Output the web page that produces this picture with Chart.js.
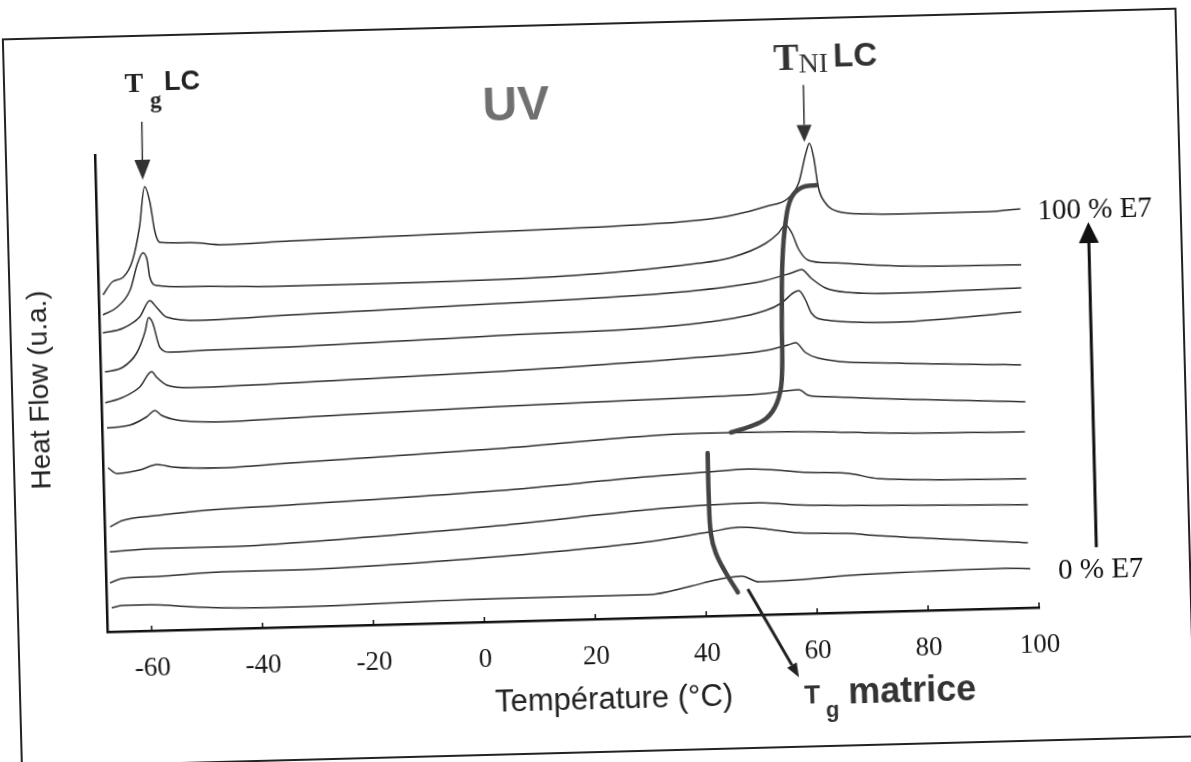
<!DOCTYPE html>
<html>
<head>
<meta charset="utf-8">
<script src="https://cdn.jsdelivr.net/npm/chart.js@4.4.0/dist/chart.umd.min.js"></script>
<style>
  html, body { margin: 0; padding: 0; background: #fff; overflow: hidden; }
  #dsc { display: block; transform: rotate(-1.5deg); transform-origin: 50% 50%; }
</style>
</head>
<body>
<canvas id="dsc" width="1191" height="762"></canvas>
<script>
// DSC thermograms (UV cured), top curve 100 % E7 down to 0 % E7
// pairs: [temperature °C, heat flow (u.a.)]
var e7_100 = [[-67.2,337],[-65.4,350],[-63.5,354],[-61.7,371],[-60.3,404],[-59.2,444],[-58.3,428],[-57.6,400],[-56.7,388],[-51.3,387],[-45.4,384],[-33.3,386],[4.5,390],[40.5,396],[46.5,400],[52.7,408],[56.8,416],[58.7,431],[60.1,460],[60.8,470],[61.5,456],[62.2,426],[63.4,410],[65.7,401],[70.6,398],[76.5,397],[92.7,397],[98.5,399]];
var e7_90 = [[-67.3,317],[-64.8,324],[-62.3,341],[-60.8,368],[-59.8,378],[-59.1,371],[-58.7,354],[-57.5,345],[-51.5,343],[-33.5,341],[4.3,342],[40.3,353],[46.3,358],[52.4,371],[54.8,381],[56.1,389],[57.2,381],[58.4,364],[60.1,353],[64.2,350],[76.3,345],[98.4,343]];
var e7_80 = [[-67.4,299],[-63.8,303],[-60.7,314],[-58.8,330],[-57.6,323],[-55.8,313],[-49.9,309],[-33.7,312],[4.1,318],[40.2,326],[52.2,334],[57,341],[58.8,344],[60.5,335],[63,325],[67.1,320],[76.1,318],[98.3,320]];
var e7_70 = [[-67.2,260],[-64,264],[-61.4,278],[-59.8,299],[-59.1,313],[-58.4,308],[-57.2,283],[-55.4,278],[-48.8,279],[-33.8,280],[3.9,286],[40,293],[52.1,304],[55,311],[57.2,321],[58.2,323],[59.4,313],[60.4,300],[62.9,293],[76,289],[98.2,296]];
var e7_60 = [[-67.3,229],[-64.1,234],[-61,244],[-58.8,259],[-57.9,253],[-56.1,245],[-52,242],[-34,244],[3.7,250],[39.9,259],[51.9,264],[56,269],[57.4,271],[59.1,261],[61.4,255],[75.8,248],[97.9,243]];
var e7_50 = [[-67.1,204],[-63,206],[-59.9,214],[-58.4,220],[-57.2,215],[-54.5,210],[-46.2,207],[-34.2,209],[3.7,215],[39.7,219],[51.7,221],[57.7,224],[59.5,218],[63.6,216],[75.6,212],[98.5,206]];
var e7_40 = [[-67.1,164],[-65.5,158],[-61.4,161],[-58.3,166],[-55.4,163],[-46.5,161],[-34.4,164],[3.4,173],[39.5,183],[57.4,182],[75.5,178],[98.3,176]];
var e7_30 = [[-67,105],[-64.7,111],[-58.5,115],[-49.5,119],[-34.6,122],[3.2,131],[30.3,141],[40.6,144],[48.3,146],[59.1,141],[66.3,139],[71.7,133],[98.3,129]];
var e7_20 = [[-67.2,80],[-58.7,82],[-46.8,82],[-34.7,84],[3.1,96],[30.1,108],[40.4,111],[50,112],[56.6,109],[66.1,107],[98.5,103]];
var e7_10 = [[-67.3,49],[-65,53],[-58.8,54],[-46.9,57],[-34.9,57],[2.9,65],[30,76],[40.9,84],[46.3,88],[49.3,87],[57,81],[66,79],[71.4,76],[98.3,65]];
var e7_0 = [[-67.1,24],[-65.1,26],[-60.2,26],[-53,23],[-47.1,21],[-35.1,20],[2.8,23],[29.7,23],[37,30],[41.9,36],[44.2,38],[46.6,39],[49.6,33],[56.8,34],[65.8,37],[71.2,38],[94.1,40],[98.6,39]];

// hand drawn trend lines (T_NI of the LC and T_g of the matrix)
var tniTrend = [[45.3,183],[48.5,188],[51.7,196],[53.7,211],[54.7,234],[55,294],[55.4,354],[56.2,394],[57.3,416],[59.2,426],[61.9,428]];
var tgTrend = [[41,163],[41,119],[41.2,83],[42,63],[43.7,43],[45.8,23]];

var xTicks = [-60, -40, -20, 0, 20, 40, 60, 80, 100];

var curves = [e7_100, e7_90, e7_80, e7_70, e7_60, e7_50, e7_40, e7_30, e7_20, e7_10, e7_0];

function pts(arr) {
    return arr.map(function (p) { return { x: p[0], y: p[1] }; });
}

var datasets = [];
[tniTrend, tgTrend].forEach(function (d) {
    datasets.push({
        data: pts(d),
        borderColor: '#444',
        borderWidth: 4.5,
        borderCapStyle: 'round',
        pointRadius: 0,
        tension: 0.4,
        order: 0
    });
});
curves.forEach(function (d) {
    datasets.push({
        data: pts(d),
        borderColor: '#2e2e2e',
        borderWidth: 1.5,
        pointRadius: 0,
        cubicInterpolationMode: 'monotone',
        order: 1
    });
});

var decor = {
    id: 'decor',
    afterDraw: function (chart) {
        var c = chart.ctx, xs = chart.scales.x, ys = chart.scales.y;
        function px(t, v) { return [xs.getPixelForValue(t), ys.getPixelForValue(v)]; }

        function arrow(a, b, lw, hl, hw, col) {
            var dx = b[0] - a[0], dy = b[1] - a[1], L = Math.hypot(dx, dy);
            var ux = dx / L, uy = dy / L;
            var bx = b[0] - ux * hl, by = b[1] - uy * hl;
            c.strokeStyle = col; c.lineWidth = lw;
            c.beginPath(); c.moveTo(a[0], a[1]); c.lineTo(bx, by); c.stroke();
            c.fillStyle = col;
            c.beginPath();
            c.moveTo(b[0], b[1]);
            c.lineTo(bx - uy * hw / 2, by + ux * hw / 2);
            c.lineTo(bx + uy * hw / 2, by - ux * hw / 2);
            c.closePath(); c.fill();
        }

        function txt(s, p, font, align, base, col) {
            c.font = font;
            c.textAlign = align;
            c.textBaseline = base;
            c.fillStyle = col;
            c.fillText(s, p[0], p[1]);
        }

        c.save();

        // page frame
        c.strokeStyle = '#222';
        c.lineWidth = 2;
        c.strokeRect(12, 24, 1173, 728);

        // small inner tick marks on the x axis
        c.strokeStyle = '#111';
        c.lineWidth = 1.5;
        xTicks.forEach(function (t) {
            var p = px(t, 0);
            c.beginPath(); c.moveTo(p[0], p[1]); c.lineTo(p[0], p[1] - 5); c.stroke();
        });

        // arrows
        arrow(px(-59.4, 509), px(-59.5, 451), 1.5, 20, 16, '#333');
        arrow(px(60, 528.5), px(59.9, 471.5), 1.5, 17, 15, '#333');
        arrow(px(110.6, 58.8), px(110.7, 384), 3, 21, 20, '#111');
        arrow(px(47.6, 26), px(56.4, -63.4), 3, 14, 11, '#222');

        var serif = 'Liberation Serif', sans = 'Liberation Sans';

        txt('UV', px(8.1, 514), 'bold 48px ' + sans, 'center', 'middle', '#707070');
        txt('100 % E7', px(111.9, 396), '29px ' + serif, 'center', 'middle', '#111');
        txt('0 % E7', px(111.3, 35.7), '29px ' + serif, 'center', 'middle', '#111');

        // T g LC
        txt('T', px(-62.3, 539), 'bold 28px ' + serif, 'left', 'alphabetic', '#222');
        txt('g', px(-57.8, 522.6), 'bold 23px ' + serif, 'left', 'alphabetic', '#222');
        txt('LC', px(-55.2, 540), 'bold 27px ' + sans, 'left', 'alphabetic', '#222');

        // T NI LC
        txt('T', px(54.7, 543.9), 'bold 38px ' + serif, 'left', 'alphabetic', '#333');
        txt('NI', px(59.2, 540.6), '28px ' + serif, 'left', 'alphabetic', '#333');
        txt('LC', px(65.5, 545.7), 'bold 33px ' + sans, 'left', 'alphabetic', '#333');

        // T g matrice
        txt('T', px(57.3, -89.6), 'bold 26px ' + sans, 'left', 'alphabetic', '#333');
        txt('g', px(61.1, -104), 'bold 22px ' + sans, 'left', 'alphabetic', '#333');
        txt('matrice', px(65.2, -90.7), 'bold 36px ' + sans, 'left', 'alphabetic', '#333');

        // axis titles
        txt('Température (°C)', px(23, -81.5), '31px ' + sans, 'center', 'middle', '#222');
        var hp = px(-79, 243.6);
        c.translate(hp[0], hp[1]);
        c.rotate(-Math.PI / 2);
        txt('Heat Flow (u.a.)', [0, 0], '28px ' + sans, 'center', 'middle', '#222');

        c.restore();
    }
};

var ctx = document.getElementById('dsc').getContext('2d');

var myChart = new Chart(ctx, {
    type: 'line',
    data: { datasets: datasets },
    options: {
        responsive: false,
        animation: false,
        devicePixelRatio: 1,
        layout: { padding: { left: 101, right: 158, top: 142, bottom: 93 } },
        plugins: {
            legend: { display: false },
            tooltip: { enabled: false }
        },
        scales: {
            x: {
                type: 'linear',
                min: -68,
                max: 100,
                afterBuildTicks: function (s) {
                    s.ticks = xTicks.map(function (v) { return { value: v }; });
                },
                afterFit: function (s) { s.height = 50; },
                grid: { display: false, drawTicks: false },
                border: { display: true, color: '#111', width: 2.5 },
                ticks: {
                    padding: 22,
                    color: '#1a1a1a',
                    font: { family: 'Liberation Serif', size: 27 },
                    callback: function (v) { return String(v); }
                }
            },
            y: {
                min: 0,
                max: 477,
                afterFit: function (s) { s.width = 0; },
                grid: { display: false, drawTicks: false },
                border: { display: true, color: '#111', width: 2.5 },
                ticks: { display: false }
            }
        }
    },
    plugins: [decor]
});
</script>
</body>
</html>
